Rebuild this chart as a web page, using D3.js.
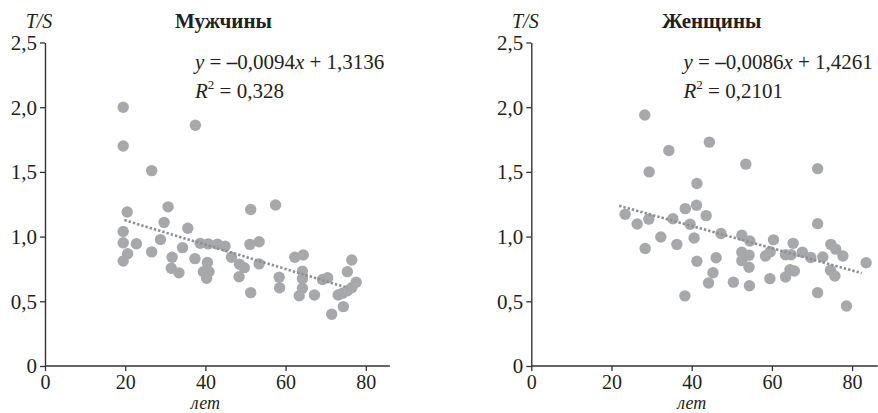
<!DOCTYPE html>
<html><head><meta charset="utf-8">
<script src="https://cdn.jsdelivr.net/npm/d3@7/dist/d3.min.js"></script>
<style>body{margin:0;background:#fff}svg{display:block}svg text{font-family:"Liberation Serif","DejaVu Serif",serif !important;fill:#231f20}</style>
</head><body><svg id="c" width="878" height="413"></svg>
<script>
const menAge = [19.5,37.5,19.5,26.6,20.5,30.7,19.5,19.5,22.8,29.7,28.8,35.6,34.3,26.6,20.6,19.5,31.7,37.4,38.7,40.7,43.0,44.9,46.5,51.3,57.5,51.1,53.4,53.4,48.5,49.7,40.5,31.5,33.4,39.5,40.9,40.3,48.4,51.3,58.4,58.5,62.3,64.4,64.2,64.2,64.2,63.4,67.2,69.2,70.5,71.5,74.4,73.1,74.2,75.4,76.5,77.6,75.4,76.5];
const menTS  = [2.00,1.86,1.70,1.51,1.19,1.23,1.04,0.953,0.945,1.11,0.977,1.064,0.915,0.882,0.868,0.811,0.840,0.830,0.948,0.944,0.942,0.926,0.840,1.21,1.244,0.940,0.960,0.789,0.786,0.760,0.800,0.755,0.720,0.729,0.729,0.678,0.690,0.567,0.686,0.605,0.840,0.858,0.732,0.675,0.601,0.543,0.549,0.668,0.682,0.400,0.459,0.549,0.562,0.582,0.605,0.647,0.729,0.819];
const womenAge = [28.3,44.4,34.3,29.4,53.5,71.4,41.3,23.4,26.4,29.3,35.3,38.4,41.2,43.6,39.6,32.3,28.4,36.3,40.6,47.3,52.5,54.5,60.4,65.3,71.4,74.7,75.9,77.7,83.5,41.3,46.1,52.5,54.3,52.5,58.4,59.6,63.4,64.8,67.6,69.7,72.7,54.3,45.3,64.5,65.6,74.6,75.7,59.5,63.4,50.4,38.3,44.2,54.4,71.4,78.6];
const womenTS  = [1.94,1.73,1.665,1.50,1.56,1.525,1.41,1.172,1.097,1.135,1.138,1.216,1.242,1.162,1.095,0.997,0.908,0.940,0.989,1.024,1.011,0.966,0.975,0.948,1.100,0.940,0.903,0.850,0.798,0.810,0.836,0.879,0.857,0.814,0.850,0.883,0.860,0.860,0.880,0.838,0.843,0.763,0.721,0.744,0.734,0.740,0.696,0.675,0.688,0.648,0.542,0.642,0.620,0.567,0.464];
const titles = ["Мужчины","Женщины"];
const slopes = [-0.0094,-0.0086];
const intercepts = [1.3136,1.4261];
const slopeLabels = ["0,0094","0,0086"];
const interceptLabels = ["1,3136","1,4261"];
const r2Labels = ["0,328","0,2101"];
const trendRange = [[19.8,74.8],[21.9,82.4]];
const xTicks = [0,20,40,60,80];
const yTicks = [0,0.5,1,1.5,2,2.5];
const yTickLabels = ["0","0,5","1,0","1,5","2,0","2,5"];

const FF = "'Liberation Serif', 'DejaVu Serif', serif";
const svg = d3.select("#c");
const H0 = 366, H1 = 42.5;
const panels = [
  {age:menAge, ts:menTS, x0:45, axEnd:86, titleX:223.5, eqX:195},
  {age:womenAge, ts:womenTS, x0:531.3, axEnd:86.4, titleX:711.7, eqX:683.5}
];
panels.forEach((p,i)=>{
  const x = d3.scaleLinear().domain([0,80]).range([p.x0, p.x0+80*4.01]);
  const y = d3.scaleLinear().domain([0,2.5]).range([H0,H1]);
  const g = svg.append("g").attr("font-family",FF);
  const xa = g.append("g").attr("transform",`translate(0,${H0})`)
    .call(d3.axisBottom(x).tickValues(xTicks).tickSize(5).tickSizeOuter(0).tickFormat(d3.format("d")));
  xa.select(".domain").attr("d",`M${x(0)},0H${x(p.axEnd)}`);
  const ya = g.append("g").attr("transform",`translate(${p.x0},0)`)
    .call(d3.axisLeft(y).tickValues(yTicks).tickSize(5).tickSizeOuter(0).tickFormat((d,k)=>yTickLabels[k]));
  [xa,ya].forEach(a=>{
    a.attr("font-family",FF).attr("font-size",21);
    a.select(".domain").attr("stroke","#333").attr("stroke-width",1.4);
    a.selectAll(".tick line").attr("stroke","#333").attr("stroke-width",1.3);
    a.selectAll(".tick text").attr("fill","#231f20").attr("font-family",FF);
  });
  xa.attr("font-size",20);
  xa.selectAll(".tick text").attr("y",22.5).attr("dy",0);
  ya.selectAll(".tick text").attr("x",-8).attr("dy","0.33em");
  g.selectAll("circle").data(p.age.map((a,k)=>[a,p.ts[k]])).enter().append("circle")
    .attr("cx",d=>x(d[0])).attr("cy",d=>y(d[1])).attr("r",5.7).attr("fill","#a7a8ab");
  const tr = trendRange[i];
  g.append("line").attr("x1",x(tr[0])).attr("y1",y(slopes[i]*tr[0]+intercepts[i]))
    .attr("x2",x(tr[1])).attr("y2",y(slopes[i]*tr[1]+intercepts[i]))
    .attr("stroke","#8e8f92").attr("stroke-width",2.6).attr("stroke-dasharray","2.4 2");
  g.append("text").attr("x",p.x0-6).attr("y",28).attr("text-anchor","middle").attr("font-style","italic").attr("font-size",20).text("T/S");
  g.append("text").attr("x",p.titleX).attr("y",28).attr("text-anchor","middle").attr("font-weight","bold").attr("font-size",21).text(titles[i]);
  const eq = g.append("text").attr("x",p.eqX).attr("y",69).attr("font-size",21);
  eq.append("tspan").attr("font-style","italic").text("y");
  eq.append("tspan").text(" = ");
  eq.append("tspan").attr("font-weight","bold").text("–");
  eq.append("tspan").text(slopeLabels[i]);
  eq.append("tspan").attr("font-style","italic").text("x");
  eq.append("tspan").text(" + "+interceptLabels[i]);
  const r2 = g.append("text").attr("x",p.eqX).attr("y",98).attr("font-size",21);
  r2.append("tspan").attr("font-style","italic").text("R");
  r2.append("tspan").attr("dy",-9).attr("font-size",13).text("2");
  r2.append("tspan").attr("dy",9).text(" = "+r2Labels[i]);
  g.append("text").attr("x",x(40)).attr("y",409).attr("text-anchor","middle").attr("font-style","italic").attr("font-size",18).text("лет");
});
</script></body></html>
